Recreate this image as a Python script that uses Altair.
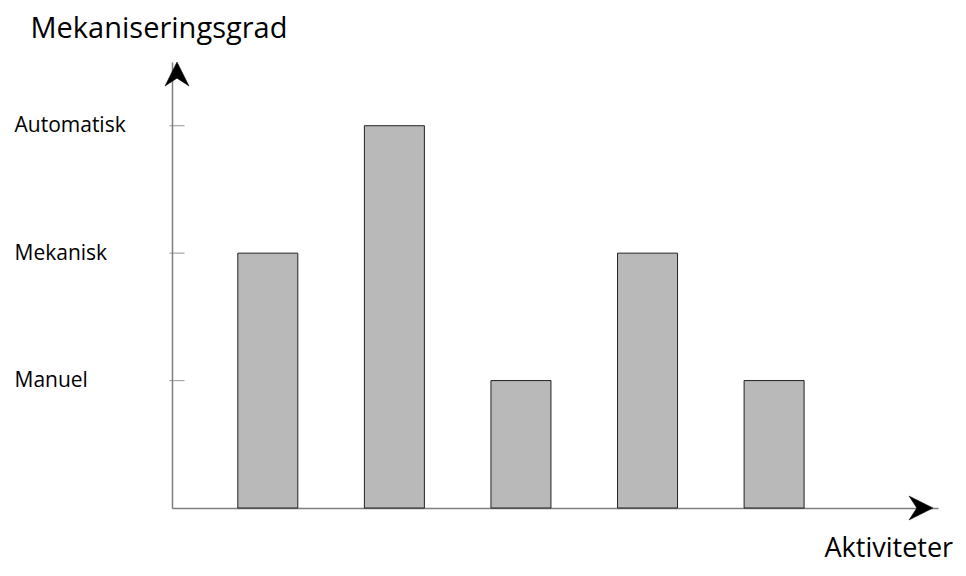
import altair as alt
import pandas as pd

# Data
activities = ["A1", "A2", "A3", "A4", "A5"]
positions = [1, 2, 3, 4, 5]
levels = [2, 3, 1, 2, 1]
level_values = [1, 2, 3]
level_names = ["Manuel", "Mekanisk", "Automatisk"]

x_domain = [0.2826, 6.2554]
y_domain = [0, 3.5]

bars_df = pd.DataFrame({"activity": activities, "pos": positions, "level": levels})
ticks_df = pd.DataFrame({"level": level_values, "name": level_names})

label_expr = "datum.value == 1 ? 'Manuel' : datum.value == 2 ? 'Mekanisk' : datum.value == 3 ? 'Automatisk' : ''"

FONT = "Open Sans"
AXIS_COLOR = "#7f7f7f"

xscale = alt.Scale(domain=x_domain, nice=False, zero=False)
yscale = alt.Scale(domain=y_domain, nice=False, zero=False)

bars = alt.Chart(bars_df).mark_bar(
    size=60, fill="#b9b9b9", stroke="#222222", strokeWidth=1
).encode(
    x=alt.X("pos:Q", scale=xscale, axis=alt.Axis(
        domain=True, domainColor=AXIS_COLOR, domainWidth=1.5,
        ticks=False, labels=False, grid=False,
        title="Aktiviteter", titleFont=FONT, titleFontSize=27,
        titleFontWeight="normal", titleColor="#000000",
        titleAlign="left", titleBaseline="middle", titleX=652, titleY=40,
    )),
    y=alt.Y("level:Q", scale=yscale, axis=alt.Axis(
        values=level_values, labelExpr=label_expr,
        domain=True, domainColor=AXIS_COLOR, domainWidth=1.5,
        ticks=False, tickSize=0, grid=False,
        labelFont=FONT, labelFontSize=21, labelColor="#000000",
        labelAlign="left", labelBaseline="middle", labelPadding=158,
        title="Mekaniseringsgrad", titleFont=FONT, titleFontSize=29,
        titleFontWeight="normal", titleColor="#000000", titleAngle=0,
        titleAlign="left", titleBaseline="middle", titleX=-142, titleY=-34,
    )),
    y2=alt.datum(0),
)

yticks = alt.Chart(ticks_df).mark_tick(
    orient="horizontal", size=15, thickness=1.2, color=AXIS_COLOR
).encode(
    x=alt.datum(x_domain[0], scale=xscale),
    y=alt.Y("level:Q", scale=yscale),
)

up_arrow = alt.Chart(pd.DataFrame({"k": [0]})).mark_point(
    shape="M0,0L1,2L0,1.35L-1,2Z", size=576, filled=True, fill="#000000",
    stroke="#000000", strokeWidth=0.5, opacity=1,
).encode(
    x=alt.datum(x_domain[0], scale=xscale),
    y=alt.datum(y_domain[1], scale=yscale),
)

right_arrow = alt.Chart(pd.DataFrame({"k": [0]})).mark_point(
    shape="M0,0L-2,-1L-1.35,0L-2,1Z", size=576, filled=True, fill="#000000",
    stroke="#000000", strokeWidth=0.5, opacity=1,
).encode(
    x=alt.datum(x_domain[1], scale=xscale),
    y=alt.datum(y_domain[0], scale=yscale),
)

chart = alt.layer(bars, yticks, up_arrow, right_arrow).properties(
    width=766, height=446,
    autosize=alt.AutoSizeParams(type="none"),
    padding={"left": 164, "top": 54, "right": 20, "bottom": 60},
    background="white",
).configure_view(stroke=None)

chart.save("out.html", embed_options={"renderer": "svg", "actions": False})
